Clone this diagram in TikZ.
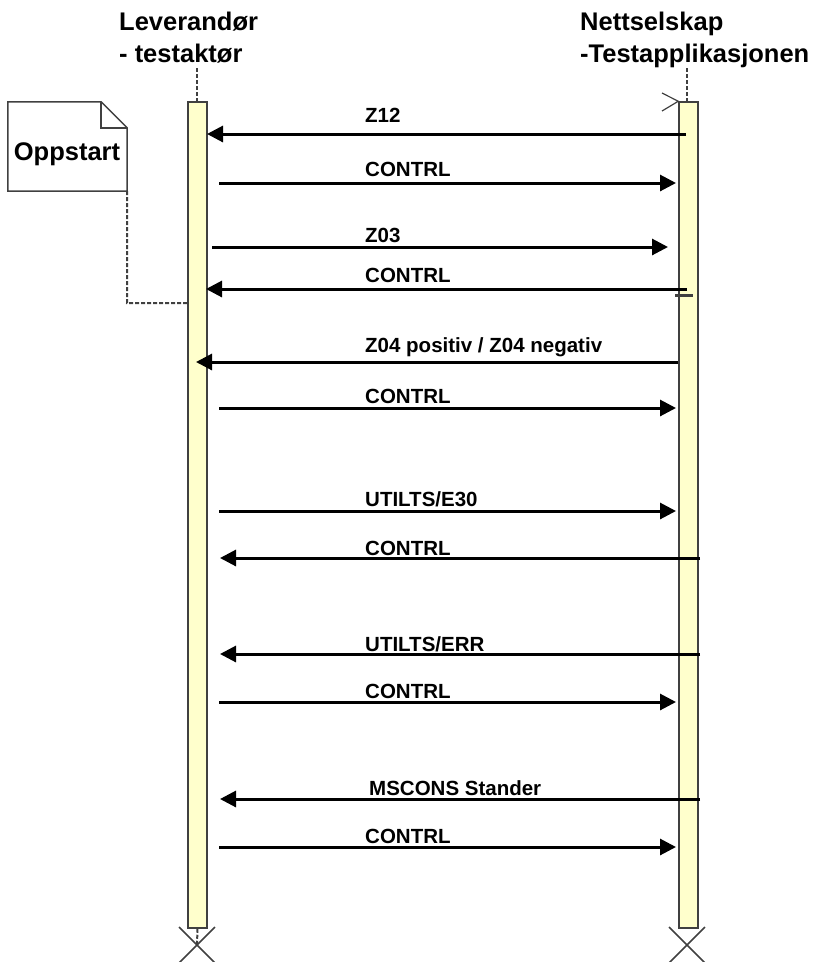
\documentclass[tikz,border=0pt]{standalone}
\usepackage{fontspec}
\setmainfont{Liberation Sans}
\usetikzlibrary{arrows.meta}
\definecolor{barfill}{HTML}{FFFFCC}
\definecolor{edgegray}{HTML}{404040}
\tikzset{
 lifebar/.style={draw=edgegray,fill=barfill,line width=1.5pt,minimum width=19pt,minimum height=826pt,inner sep=0pt},
 msg/.style={line width=3pt,-{Triangle[length=16pt,width=16pt]}},
 msglabel/.style={anchor=base west,inner sep=0pt,font=\bfseries\fontsize{20.5}{24}\selectfont},
 headlabel/.style={anchor=base west,inner sep=0pt,font=\bfseries\fontsize{25.5}{30}\selectfont},
 lifeline/.style={draw=edgegray,line width=2pt,dash pattern=on 4pt off 2pt},
 endcross/.style={draw=edgegray,line width=1.5pt}
}
\begin{document}
\begin{tikzpicture}[x=1pt,y=-1pt]
 \useasboundingbox (0,0) rectangle (824,962);
 % actors
 \node[headlabel] (levname) at (119,30) {Leverandør};
 \node[headlabel] (levsub) at (119,62) {- testaktør};
 \node[headlabel] (netname) at (580,30) {Nettselskap};
 \node[headlabel] (netsub) at (580,62) {-Testapplikasjonen};
 \node[lifebar] (lev) at (197.5,515) {};
 \node[lifebar] (net) at (688.5,515) {};
 \coordinate (levtop) at (197,68);
 \coordinate (nettop) at (687,68);
 \draw[lifeline] (levtop) -- (levtop |- lev.north);
 \draw[lifeline] (nettop) -- (nettop |- net.north);
 \draw[edgegray,line width=1.2pt] (662,93) -- (net.north west) -- (662,111);
 \draw[edgegray,line width=3pt] (675,295) -- (693,295);
 % note
 \node[minimum width=119pt,minimum height=89pt,inner sep=0pt] (note) at (67.5,146.5) {};
 \node[headlabel,anchor=base] (notetext) at (67,160) {Oppstart};
 \draw[edgegray,line width=1.5pt] (note.south west) -- (note.north west) -- ([xshift=-26pt]note.north east) -- ([yshift=-26pt]note.north east) -- (note.south east) -- cycle;
 \draw[edgegray,line width=1.5pt] ([xshift=-26pt]note.north east) -- ([xshift=-26pt,yshift=-26pt]note.north east) -- ([yshift=-26pt]note.north east);
 \coordinate (notelink) at (127,303);
 \draw[lifeline] (note.south east) -- (notelink) -- (lev.west |- notelink);
 % messages
 \coordinate (m1a) at (686,134); \coordinate (m1b) at (207,134);
 \draw[msg] (m1a) -- (m1b);
 \node[msglabel] (m1) at (365,122) {Z12};
 \coordinate (m2a) at (219,183); \coordinate (m2b) at (676,183);
 \draw[msg] (m2a) -- (m2b);
 \node[msglabel] (m2) at (365,176) {CONTRL};
 \coordinate (m3a) at (212,247); \coordinate (m3b) at (668,247);
 \draw[msg] (m3a) -- (m3b);
 \node[msglabel] (m3) at (365,242) {Z03};
 \coordinate (m4a) at (687,289); \coordinate (m4b) at (206,289);
 \draw[msg] (m4a) -- (m4b);
 \node[msglabel] (m4) at (365,282) {CONTRL};
 \coordinate (m5a) at (678,362); \coordinate (m5b) at (196,362);
 \draw[msg] (m5a) -- (m5b);
 \node[msglabel] (m5) at (365,352) {Z04 positiv / Z04 negativ};
 \coordinate (m6a) at (219,408); \coordinate (m6b) at (676,408);
 \draw[msg] (m6a) -- (m6b);
 \node[msglabel] (m6) at (365,403) {CONTRL};
 \coordinate (m7a) at (219,511); \coordinate (m7b) at (676,511);
 \draw[msg] (m7a) -- (m7b);
 \node[msglabel] (m7) at (365,506) {UTILTS/E30};
 \coordinate (m8a) at (700,558); \coordinate (m8b) at (220,558);
 \draw[msg] (m8a) -- (m8b);
 \node[msglabel] (m8) at (365,555) {CONTRL};
 \coordinate (m9a) at (700,654); \coordinate (m9b) at (220,654);
 \draw[msg] (m9a) -- (m9b);
 \node[msglabel] (m9) at (365,651) {UTILTS/ERR};
 \coordinate (m10a) at (219,702); \coordinate (m10b) at (676,702);
 \draw[msg] (m10a) -- (m10b);
 \node[msglabel] (m10) at (365,698) {CONTRL};
 \coordinate (m11a) at (700,799); \coordinate (m11b) at (220,799);
 \draw[msg] (m11a) -- (m11b);
 \node[msglabel] (m11) at (369,795) {MSCONS Stander};
 \coordinate (m12a) at (219,847); \coordinate (m12b) at (676,847);
 \draw[msg] (m12a) -- (m12b);
 \node[msglabel] (m12) at (365,843) {CONTRL};
 % ends
 \coordinate (levend) at (197,945);
 \coordinate (netend) at (687,945);
 \draw[lifeline] (lev.south) -- (levend);
 \draw[endcross] ([shift={(-18,-18)}]levend) -- ([shift={(18,18)}]levend) ([shift={(-18,18)}]levend) -- ([shift={(18,-18)}]levend);
 \draw[endcross] ([shift={(-18,-18)}]netend) -- ([shift={(18,18)}]netend) ([shift={(-18,18)}]netend) -- ([shift={(18,-18)}]netend);
\end{tikzpicture}
\end{document}
